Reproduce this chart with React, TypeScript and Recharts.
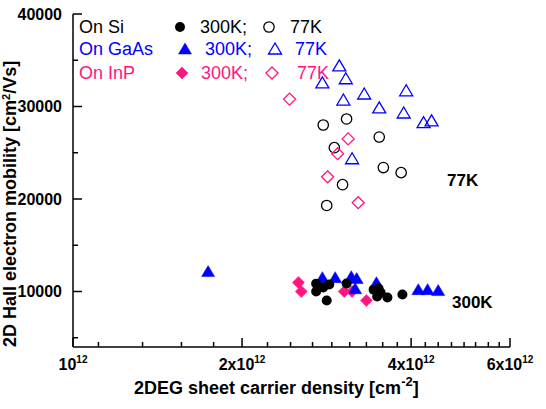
import React from 'react';
import { ScatterChart, Scatter, XAxis, YAxis, Customized } from 'recharts';

const FONT = '"Liberation Sans", Arial, Helvetica, sans-serif';
const BLUE = '#0000FF';
const PINK = '#FF1480';

// x: sheet density in units of 1e12 cm^-2, y: Hall mobility in cm^2/Vs
const si300K = [[2.71, 10850], [2.71, 10000], [2.79, 10430], [2.86, 10750], [2.83, 9030], [3.07, 10860], [3.43, 10200], [3.5, 10320], [3.48, 9460], [3.53, 9900], [3.63, 9350], [3.86, 9680]];
const si77K = [[2.79, 28000], [3.07, 28650], [3.51, 26700], [2.92, 25550], [3.57, 23400], [3.84, 22850], [3.02, 21550], [2.83, 19300]];
const gaas300K = [[1.74, 12150], [2.78, 11500], [2.93, 11500], [3.13, 11600], [3.2, 11400], [3.18, 10300], [3.47, 10950], [4.12, 10200], [4.28, 10200], [4.47, 10100]];
const gaas77K = [[2.98, 34400], [2.78, 32550], [3.06, 33000], [3.03, 30700], [3.3, 31350], [3.51, 29850], [3.92, 31700], [3.88, 29300], [4.21, 28250], [4.35, 28450], [3.14, 24350]];
const inp300K = [[2.52, 10970], [2.55, 10000], [3.04, 10000], [3.14, 10000], [3.33, 9030]];
const inp77K = [[2.43, 30800], [3.09, 26500], [2.96, 24900], [2.84, 22400], [3.22, 19600]];

const xMajor = [1, 2, 4, 6];
const xMajorLabels = ['10', '2x10', '4x10', '6x10'];
const xMinor = [1.11, 1.33, 1.56, 1.78, 2.22, 2.44, 2.67, 2.89, 3.11, 3.33, 3.56, 3.78, 4.24, 4.47, 4.72, 4.97, 5.21, 5.49, 5.74];
const yMajor = [10000, 20000, 30000, 40000];
const yMinor = [5000, 15000, 25000, 35000];

const xTicks = [...xMajor, ...xMinor].sort((a, b) => a - b);
const yTicks = [...yMajor, ...yMinor].sort((a, b) => a - b);

const toPts = (arr: number[][]) => arr.map(([x, y]) => ({ x, y }));

const MAJ = 9;
const MIN = 5;

const BottomTick = ({ x, y, payload }: any) => {
  const i = xMajor.indexOf(payload.value);
  const len = i >= 0 ? MAJ : MIN;
  return (
    <g>
      <line x1={x} x2={x} y1={y} y2={y - len} stroke="#000" strokeWidth={1.5} />
      {i >= 0 && (
        <text x={x} y={y + 23} textAnchor="middle" fontFamily={FONT} fontWeight="bold" fontSize={16} fill="#000">
          {xMajorLabels[i]}
          <tspan dy={-7} fontSize={10}>12</tspan>
        </text>
      )}
    </g>
  );
};

const TopTick = ({ x, y, payload }: any) => {
  const len = xMajor.includes(payload.value) ? MAJ : MIN;
  return <line x1={x} x2={x} y1={y} y2={y + len} stroke="#000" strokeWidth={1.5} />;
};

const LeftTick = ({ x, y, payload }: any) => {
  const major = yMajor.includes(payload.value);
  return (
    <g>
      <line x1={x} x2={x + (major ? MAJ : MIN)} y1={y} y2={y} stroke="#000" strokeWidth={1.5} />
      {major && (
        <text x={x - 11} y={y + 5.5} textAnchor="end" fontFamily={FONT} fontWeight="bold" fontSize={16} fill="#000">
          {payload.value}
        </text>
      )}
    </g>
  );
};

const RightTick = ({ x, y, payload }: any) => {
  const len = yMajor.includes(payload.value) ? MAJ : MIN;
  return <line x1={x} x2={x - len} y1={y} y2={y} stroke="#000" strokeWidth={1.5} />;
};

const dot = (color: string, filled: boolean) => (p: any) => (
  <circle cx={p.cx} cy={p.cy} r={filled ? 5 : 5.2} fill={filled ? color : 'none'} stroke={color} strokeWidth={filled ? 0 : 1.3} />
);

const tri = (color: string, filled: boolean) => (p: any) => (
  <polygon
    points={`${p.cx},${p.cy - 6} ${p.cx - 6.5},${p.cy + 5} ${p.cx + 6.5},${p.cy + 5}`}
    fill={filled ? color : 'none'}
    stroke={color}
    strokeWidth={filled ? 0.5 : 1.3}
  />
);

const dia = (color: string, filled: boolean) => (p: any) => (
  <polygon
    points={`${p.cx},${p.cy - 6} ${p.cx + 6},${p.cy} ${p.cx},${p.cy + 6} ${p.cx - 6},${p.cy}`}
    fill={filled ? color : 'none'}
    stroke={color}
    strokeWidth={filled ? 0.5 : 1.3}
  />
);

const legendRows = [
  { name: 'On Si', color: '#000', shape: dot, y: 33, m1: 180, t1: 200, m2: 269, t2: 290 },
  { name: 'On GaAs', color: BLUE, shape: tri, y: 55, m1: 185, t1: 205, m2: 275, t2: 295 },
  { name: 'On InP', color: PINK, shape: dia, y: 79, m1: 182, t1: 201, m2: 272, t2: 297 },
];

const Extras = () => (
  <g fontFamily={FONT}>
    {legendRows.map((r) => (
      <g key={r.name} fill={r.color} fontSize={18}>
        <text x={79} y={r.y}>{r.name}</text>
        {r.shape(r.color, true)({ cx: r.m1, cy: r.y - 6 })}
        <text x={r.t1} y={r.y}>300K;</text>
        {r.shape(r.color, false)({ cx: r.m2, cy: r.y - 6 })}
        <text x={r.t2} y={r.y}>77K</text>
      </g>
    ))}
    <text x={447} y={186} fontWeight="bold" fontSize={17} fill="#000">77K</text>
    <text x={452} y={308} fontWeight="bold" fontSize={17} fill="#000">300K</text>
    <text x={134} y={394} fontWeight="bold" fontSize={18} fill="#000">
      2DEG sheet carrier density [cm
      <tspan dy={-8} fontSize={13}>-2</tspan>
      <tspan dy={8}>]</tspan>
    </text>
    <text x={16} y={347} transform="rotate(-90, 16, 347)" fontWeight="bold" fontSize={18} fill="#000">
      2D Hall electron mobility [cm
      <tspan dy={-6} fontSize={11}>2</tspan>
      <tspan dy={6}>/Vs]</tspan>
    </text>
  </g>
);

export default function App() {
  return (
    <div style={{ position: 'absolute', left: 0, top: 0, background: '#fff' }}>
      <ScatterChart width={546} height={409} margin={{ top: 14, right: 36, bottom: 0, left: 0 }}>
        <XAxis
          dataKey="x"
          type="number"
          scale="log"
          domain={[1, 6]}
          ticks={xTicks}
          interval={0}
          height={62}
          tickSize={0}
          tickMargin={0}
          tickLine={false}
          tick={<BottomTick />}
          axisLine={{ stroke: '#000', strokeWidth: 1.5 }}
          allowDataOverflow
        />
        <XAxis
          xAxisId="top"
          orientation="top"
          dataKey="x"
          type="number"
          scale="log"
          domain={[1, 6]}
          ticks={xTicks}
          interval={0}
          height={0}
          tickSize={0}
          tickMargin={0}
          tickLine={false}
          tick={<TopTick />}
          axisLine={{ stroke: '#000', strokeWidth: 1.5 }}
          allowDataOverflow
        />
        <YAxis
          dataKey="y"
          type="number"
          domain={[4000, 40000]}
          ticks={yTicks}
          interval={0}
          width={73}
          tickSize={0}
          tickMargin={0}
          tickLine={false}
          tick={<LeftTick />}
          axisLine={{ stroke: '#000', strokeWidth: 1.5 }}
          allowDataOverflow
        />
        <YAxis
          yAxisId="right"
          orientation="right"
          dataKey="y"
          type="number"
          domain={[4000, 40000]}
          ticks={yTicks}
          interval={0}
          width={0}
          tickSize={0}
          tickMargin={0}
          tickLine={false}
          tick={<RightTick />}
          axisLine={{ stroke: '#000', strokeWidth: 1.5 }}
          allowDataOverflow
        />
        <Scatter data={toPts(si77K)} shape={dot('#000', false)} isAnimationActive={false} />
        <Scatter data={toPts(gaas77K)} shape={tri(BLUE, false)} isAnimationActive={false} />
        <Scatter data={toPts(inp77K)} shape={dia(PINK, false)} isAnimationActive={false} />
        <Scatter data={toPts(inp300K)} shape={dia(PINK, true)} isAnimationActive={false} />
        <Scatter data={toPts(gaas300K)} shape={tri(BLUE, true)} isAnimationActive={false} />
        <Scatter data={toPts(si300K)} shape={dot('#000', true)} isAnimationActive={false} />
        <Customized component={Extras} />
      </ScatterChart>
    </div>
  );
}
